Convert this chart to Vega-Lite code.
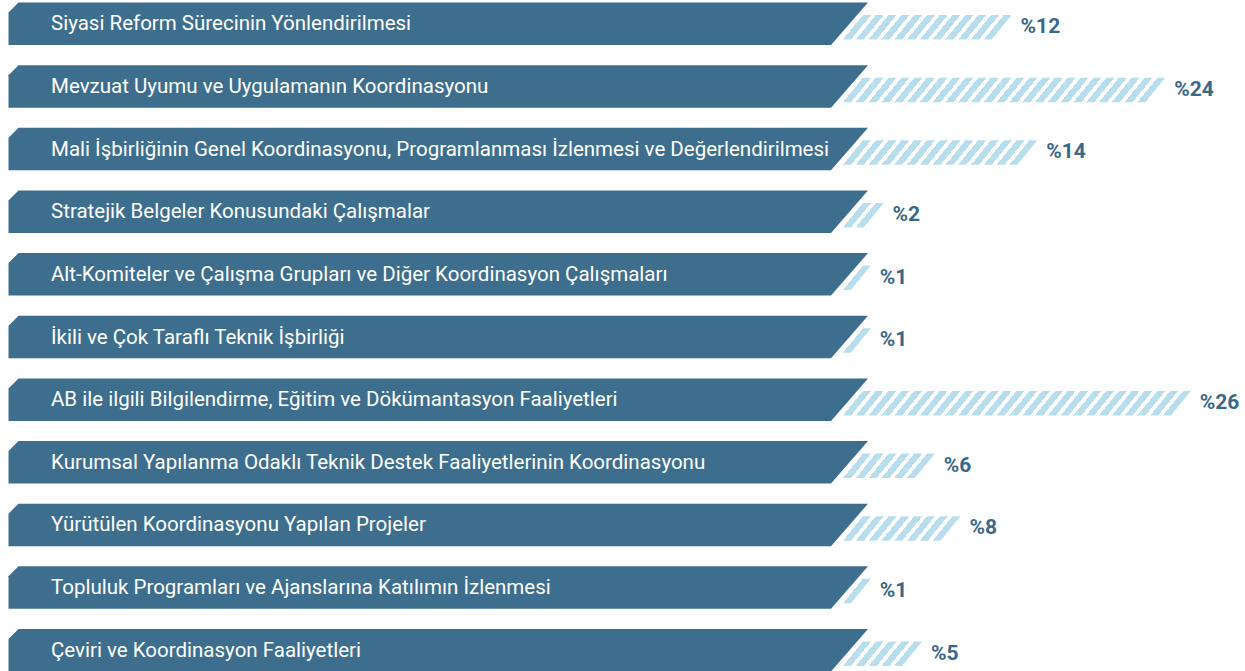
{
  "$schema": "https://vega.github.io/schema/vega-lite/v6.json",
  "width": 1245,
  "height": 671,
  "autosize": {"type": "none"},
  "padding": 0,
  "background": "#ffffff",
  "config": {"view": {"stroke": null}},
  "data": {
    "values": [
      {"label": "Siyasi Reform Sürecinin Yönlendirilmesi", "value": 12},
      {"label": "Mevzuat Uyumu ve Uygulamanın Koordinasyonu", "value": 24},
      {"label": "Mali İşbirliğinin Genel Koordinasyonu, Programlanması İzlenmesi ve Değerlendirilmesi", "value": 14},
      {"label": "Stratejik Belgeler Konusundaki Çalışmalar", "value": 2},
      {"label": "Alt-Komiteler ve Çalışma Grupları ve Diğer Koordinasyon Çalışmaları", "value": 1},
      {"label": "İkili ve Çok Taraflı Teknik İşbirliği", "value": 1},
      {"label": "AB ile ilgili Bilgilendirme, Eğitim ve Dökümantasyon Faaliyetleri", "value": 26},
      {"label": "Kurumsal Yapılanma Odaklı Teknik Destek Faaliyetlerinin Koordinasyonu", "value": 6},
      {"label": "Yürütülen Koordinasyonu Yapılan Projeler", "value": 8},
      {"label": "Topluluk Programları ve Ajanslarına Katılımın İzlenmesi", "value": 1},
      {"label": "Çeviri ve Koordinasyon Faaliyetleri", "value": 5}
    ]
  },
  "encoding": {
    "y": {"field": "label", "type": "nominal", "sort": null, "axis": null,
          "scale": {"type": "point", "range": [23.75, 650.25], "padding": 0}}
  },
  "layer": [
    {
      "mark": {
        "type": "bar", "height": 24.5, "yOffset": 3.5,
        "fill": {
          "gradient": "linear", "x1": 0, "y1": 1, "x2": 0.996896, "y2": 1.055631,
          "stops": [
            {"offset": 0, "color": "#ffffff"},
            {"offset": 0, "color": "#b8deee"}, {"offset": 0.022321, "color": "#b8deee"}, {"offset": 0.022321, "color": "#ffffff"}, {"offset": 0.035714, "color": "#ffffff"},
            {"offset": 0.035714, "color": "#b8deee"}, {"offset": 0.058036, "color": "#b8deee"}, {"offset": 0.058036, "color": "#ffffff"}, {"offset": 0.071429, "color": "#ffffff"},
            {"offset": 0.071429, "color": "#b8deee"}, {"offset": 0.09375, "color": "#b8deee"}, {"offset": 0.09375, "color": "#ffffff"}, {"offset": 0.107143, "color": "#ffffff"},
            {"offset": 0.107143, "color": "#b8deee"}, {"offset": 0.129464, "color": "#b8deee"}, {"offset": 0.129464, "color": "#ffffff"}, {"offset": 0.142857, "color": "#ffffff"},
            {"offset": 0.142857, "color": "#b8deee"}, {"offset": 0.165179, "color": "#b8deee"}, {"offset": 0.165179, "color": "#ffffff"}, {"offset": 0.178571, "color": "#ffffff"},
            {"offset": 0.178571, "color": "#b8deee"}, {"offset": 0.200893, "color": "#b8deee"}, {"offset": 0.200893, "color": "#ffffff"}, {"offset": 0.214286, "color": "#ffffff"},
            {"offset": 0.214286, "color": "#b8deee"}, {"offset": 0.236607, "color": "#b8deee"}, {"offset": 0.236607, "color": "#ffffff"}, {"offset": 0.25, "color": "#ffffff"},
            {"offset": 0.25, "color": "#b8deee"}, {"offset": 0.272321, "color": "#b8deee"}, {"offset": 0.272321, "color": "#ffffff"}, {"offset": 0.285714, "color": "#ffffff"},
            {"offset": 0.285714, "color": "#b8deee"}, {"offset": 0.308036, "color": "#b8deee"}, {"offset": 0.308036, "color": "#ffffff"}, {"offset": 0.321429, "color": "#ffffff"},
            {"offset": 0.321429, "color": "#b8deee"}, {"offset": 0.34375, "color": "#b8deee"}, {"offset": 0.34375, "color": "#ffffff"}, {"offset": 0.357143, "color": "#ffffff"},
            {"offset": 0.357143, "color": "#b8deee"}, {"offset": 0.379464, "color": "#b8deee"}, {"offset": 0.379464, "color": "#ffffff"}, {"offset": 0.392857, "color": "#ffffff"},
            {"offset": 0.392857, "color": "#b8deee"}, {"offset": 0.415179, "color": "#b8deee"}, {"offset": 0.415179, "color": "#ffffff"}, {"offset": 0.428571, "color": "#ffffff"},
            {"offset": 0.428571, "color": "#b8deee"}, {"offset": 0.450893, "color": "#b8deee"}, {"offset": 0.450893, "color": "#ffffff"}, {"offset": 0.464286, "color": "#ffffff"},
            {"offset": 0.464286, "color": "#b8deee"}, {"offset": 0.486607, "color": "#b8deee"}, {"offset": 0.486607, "color": "#ffffff"}, {"offset": 0.5, "color": "#ffffff"},
            {"offset": 0.5, "color": "#b8deee"}, {"offset": 0.522321, "color": "#b8deee"}, {"offset": 0.522321, "color": "#ffffff"}, {"offset": 0.535714, "color": "#ffffff"},
            {"offset": 0.535714, "color": "#b8deee"}, {"offset": 0.558036, "color": "#b8deee"}, {"offset": 0.558036, "color": "#ffffff"}, {"offset": 0.571429, "color": "#ffffff"},
            {"offset": 0.571429, "color": "#b8deee"}, {"offset": 0.59375, "color": "#b8deee"}, {"offset": 0.59375, "color": "#ffffff"}, {"offset": 0.607143, "color": "#ffffff"},
            {"offset": 0.607143, "color": "#b8deee"}, {"offset": 0.629464, "color": "#b8deee"}, {"offset": 0.629464, "color": "#ffffff"}, {"offset": 0.642857, "color": "#ffffff"},
            {"offset": 0.642857, "color": "#b8deee"}, {"offset": 0.665179, "color": "#b8deee"}, {"offset": 0.665179, "color": "#ffffff"}, {"offset": 0.678571, "color": "#ffffff"},
            {"offset": 0.678571, "color": "#b8deee"}, {"offset": 0.700893, "color": "#b8deee"}, {"offset": 0.700893, "color": "#ffffff"}, {"offset": 0.714286, "color": "#ffffff"},
            {"offset": 0.714286, "color": "#b8deee"}, {"offset": 0.736607, "color": "#b8deee"}, {"offset": 0.736607, "color": "#ffffff"}, {"offset": 0.75, "color": "#ffffff"},
            {"offset": 0.75, "color": "#b8deee"}, {"offset": 0.772321, "color": "#b8deee"}, {"offset": 0.772321, "color": "#ffffff"}, {"offset": 0.785714, "color": "#ffffff"},
            {"offset": 0.785714, "color": "#b8deee"}, {"offset": 0.808036, "color": "#b8deee"}, {"offset": 0.808036, "color": "#ffffff"}, {"offset": 0.821429, "color": "#ffffff"},
            {"offset": 0.821429, "color": "#b8deee"}, {"offset": 0.84375, "color": "#b8deee"}, {"offset": 0.84375, "color": "#ffffff"}, {"offset": 0.857143, "color": "#ffffff"},
            {"offset": 0.857143, "color": "#b8deee"}, {"offset": 0.879464, "color": "#b8deee"}, {"offset": 0.879464, "color": "#ffffff"}, {"offset": 0.892857, "color": "#ffffff"},
            {"offset": 0.892857, "color": "#b8deee"}, {"offset": 0.915179, "color": "#b8deee"}, {"offset": 0.915179, "color": "#ffffff"}, {"offset": 0.928571, "color": "#ffffff"},
            {"offset": 0.928571, "color": "#b8deee"}, {"offset": 0.950893, "color": "#b8deee"}, {"offset": 0.950893, "color": "#ffffff"}, {"offset": 0.964286, "color": "#ffffff"},
            {"offset": 0.964286, "color": "#b8deee"}, {"offset": 0.986607, "color": "#b8deee"}, {"offset": 0.986607, "color": "#ffffff"}, {"offset": 1, "color": "#ffffff"}
          ]
        }
      },
      "encoding": {
        "x": {"datum": 0, "type": "quantitative", "axis": null,
              "scale": {"domain": [-65.859375, 31.40625], "nice": false, "zero": false}},
        "x2": {"datum": 28}
      }
    },
    {
      "mark": {"type": "point", "shape": "M-0.0582,0.17 L0.1622,-0.10 L4.4,-0.10 L4.4,0.17 Z",
               "size": 40000, "filled": true, "fill": "#ffffff", "opacity": 1, "strokeWidth": 0},
      "encoding": {
        "x": {"field": "value", "type": "quantitative"}
      }
    },
    {
      "mark": {"type": "point", "shape": "M-8.345,-0.1125 L-8.245,-0.2125 L0.25,-0.2125 L-0.12,0.2125 L-8.345,0.2125 Z",
               "size": 40000, "filled": true, "fill": "#3e6e8e", "opacity": 1, "strokeWidth": 0},
      "encoding": {
        "x": {"datum": 0, "type": "quantitative"}
      }
    },
    {
      "mark": {"type": "text", "align": "left", "baseline": "alphabetic", "dy": 6.5,
               "font": "Roboto", "fontSize": 20.5, "fill": "#ffffff"},
      "encoding": {
        "x": {"datum": -61.875, "type": "quantitative"},
        "text": {"field": "label", "type": "nominal"}
      }
    },
    {
      "transform": [{"calculate": "'%' + datum.value", "as": "pct"}],
      "mark": {"type": "text", "align": "left", "baseline": "alphabetic", "dx": 24, "dy": 9.3,
               "font": "Roboto", "fontSize": 21, "fontWeight": "bold", "fill": "#3b6888"},
      "encoding": {
        "x": {"field": "value", "type": "quantitative"},
        "text": {"field": "pct", "type": "nominal"}
      }
    }
  ]
}
